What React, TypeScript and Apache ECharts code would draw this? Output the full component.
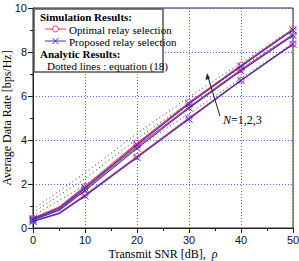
import React, { useEffect, useRef } from "react";
import * as echarts from "echarts";

const snr = [0, 5, 10, 20, 30, 40, 50];
const optN3 = [0.45, 0.95, 1.9, 3.85, 5.7, 7.4, 9.05];
const proN3 = [0.42, 0.9, 1.82, 3.78, 5.65, 7.35, 9.0];
const optN2 = [0.4, 0.85, 1.78, 3.7, 5.5, 7.2, 8.8];
const proN2 = [0.37, 0.8, 1.7, 3.62, 5.45, 7.15, 8.75];
const optN1 = [0.32, 0.68, 1.5, 3.25, 5.0, 6.72, 8.38];
const proN1 = [0.3, 0.65, 1.45, 3.2, 4.95, 6.7, 8.35];

const snrAna = [0, 10, 20, 30, 40, 50];
const anaN3 = [0.85, 2.5, 4.3, 5.95, 7.5, 9.05];
const anaN2 = [0.7, 2.25, 4.05, 5.7, 7.3, 8.8];
const anaN1 = [0.55, 1.95, 3.65, 5.2, 6.8, 8.4];

const xTicks = [0, 10, 20, 30, 40, 50];
const yTicks = [0, 2, 4, 6, 8, 10];

const RED = "#e8404a";
const BLUE = "#3a32c8";
const SERIF = "Liberation Serif";
const SANS = "Liberation Sans";

function pts(xs: number[], ys: number[]) {
  return xs.map((x, i) =>
    x === 5 ? { value: [x, ys[i]], symbol: "none" } : { value: [x, ys[i]] }
  );
}

export default function App() {
  const ref = useRef<HTMLDivElement>(null);
  useEffect(() => {
    if (!ref.current) return;
    const chart = echarts.init(ref.current, undefined, { renderer: "svg" });
    const simSeries = (name: string, ys: number[], color: string, symbol: string) => ({
      name,
      type: "line",
      data: pts(snr, ys),
      symbol,
      symbolSize: symbol === "circle" ? 6 : 7,
      showAllSymbol: true,
      lineStyle: { color, width: 1.2 },
      itemStyle: symbol === "circle"
        ? { color: "rgba(255,255,255,0)", borderColor: "#e0409a", borderWidth: 1 }
        : { color: BLUE, borderColor: BLUE, borderWidth: 1 },
      z: symbol === "circle" ? 3 : 4,
    });
    const anaSeries = (ys: number[]) => ({
      type: "line",
      data: snrAna.map((x, i) => [x, ys[i]]),
      symbol: "none",
      lineStyle: { color: "#333", width: 1, type: [1, 3] },
      z: 2,
    });
    const txt = (x: number, y: number, text: string, bold: boolean) => ({
      type: "text", x, y, z: 101,
      style: {
        text, fontFamily: SERIF, fontSize: 11, fontWeight: bold ? "bold" : "normal",
        fill: "#000", lineHeight: 11,
      },
    });
    chart.setOption({
      animation: false,
      grid: {
        left: 33, right: 6, top: 8, bottom: 33,
        outerBoundsMode: "none",
        containLabel: false,
        show: true, borderColor: "#222", borderWidth: 1, backgroundColor: "transparent",
      },
      xAxis: {
        type: "value", min: 0, max: 50, interval: 10,
        name: "{a|Transmit SNR [dB],  }{b|ρ}",
        nameLocation: "middle", nameGap: 20, nameMoveOverlap: false,
        nameTextStyle: {
          rich: {
            a: { fontFamily: SERIF, fontSize: 12, color: "#000" },
            b: { fontFamily: SERIF, fontSize: 12, fontStyle: "italic", color: "#000" },
          },
        },
        axisLine: { show: true, onZero: false, lineStyle: { color: "#222", width: 1 } },
        axisTick: { show: true, inside: false, length: 5, lineStyle: { color: "#222" } },
        minorTick: { show: true, splitNumber: 2, length: 3, lineStyle: { color: "#222" } },
        axisLabel: {
          fontFamily: SANS, fontSize: 11, color: "#111", margin: 6,
          formatter: (v: number) => (xTicks.includes(v) ? String(v) : ""),
        },
        splitLine: { show: true, lineStyle: { color: "#5a5af0", type: [1, 2], width: 1 } },
      },
      yAxis: {
        type: "value", min: 0, max: 10, interval: 2,
        name: "Average Data Rate [bps/Hz]",
        nameLocation: "middle", nameGap: 20, nameMoveOverlap: false,
        nameTextStyle: { fontFamily: SERIF, fontSize: 12, color: "#000" },
        axisLine: { show: true, onZero: false, lineStyle: { color: "#222", width: 1 } },
        axisTick: { show: true, inside: false, length: 5, lineStyle: { color: "#222" } },
        minorTick: { show: true, splitNumber: 2, length: 3, lineStyle: { color: "#222" } },
        axisLabel: {
          fontFamily: SANS, fontSize: 11, color: "#111", margin: 6,
          formatter: (v: number) => (yTicks.includes(v) ? String(v) : ""),
        },
        splitLine: { show: true, lineStyle: { color: "#5a5af0", type: [1, 2], width: 1 } },
      },
      series: [
        anaSeries(anaN3),
        anaSeries(anaN2),
        anaSeries(anaN1),
        simSeries("Optimal N=3", optN3, RED, "circle"),
        simSeries("Optimal N=2", optN2, RED, "circle"),
        simSeries("Optimal N=1", optN1, RED, "circle"),
        simSeries("Proposed N=3", proN3, BLUE, "path://M0,0L10,10M10,0L0,10"),
        simSeries("Proposed N=2", proN2, BLUE, "path://M0,0L10,10M10,0L0,10"),
        simSeries("Proposed N=1", proN1, BLUE, "path://M0,0L10,10M10,0L0,10"),
      ],
      graphic: [
        {
          type: "rect", shape: { x: 34, y: 9, width: 129, height: 63 },
          style: { fill: "#fff", stroke: "#555", lineWidth: 1.5 }, z: 100,
        },
        txt(40, 11, "Simulation Results:", true),
        { type: "line", shape: { x1: 45, y1: 29, x2: 66, y2: 29 }, style: { stroke: RED, lineWidth: 1 }, z: 101 },
        { type: "circle", shape: { cx: 55.5, cy: 29, r: 3 }, style: { fill: "#fff", stroke: RED, lineWidth: 1 }, z: 102 },
        txt(69, 24, "Optimal relay selection", false),
        { type: "line", shape: { x1: 45, y1: 41, x2: 66, y2: 41 }, style: { stroke: BLUE, lineWidth: 1 }, z: 101 },
        { type: "line", shape: { x1: 52.5, y1: 38, x2: 58.5, y2: 44 }, style: { stroke: BLUE, lineWidth: 1 }, z: 102 },
        { type: "line", shape: { x1: 58.5, y1: 38, x2: 52.5, y2: 44 }, style: { stroke: BLUE, lineWidth: 1 }, z: 102 },
        txt(69, 36, "Proposed relay selection", false),
        txt(40, 48, "Analytic Results:", true),
        txt(47, 60, "Dotted lines : equation (18)", false),
        { type: "line", shape: { x1: 220, y1: 116, x2: 208, y2: 77 }, style: { stroke: "#222", lineWidth: 1 }, z: 101 },
        { type: "polygon", shape: { points: [[207, 73], [205.5, 80], [210, 78.5]] }, style: { fill: "#222" }, z: 101 },
        {
          type: "text", x: 223, y: 114, z: 101,
          style: {
            text: "{i|N}{n|=1,2,3}",
            rich: {
              i: { fontFamily: SERIF, fontStyle: "italic", fontSize: 12, fill: "#000" },
              n: { fontFamily: SERIF, fontSize: 12, fill: "#000" },
            },
          },
        },
      ],
    });
    return () => chart.dispose();
  }, []);
  return <div ref={ref} style={{ width: 299, height: 261, position: "absolute", left: 0, top: 0 }} />;
}
